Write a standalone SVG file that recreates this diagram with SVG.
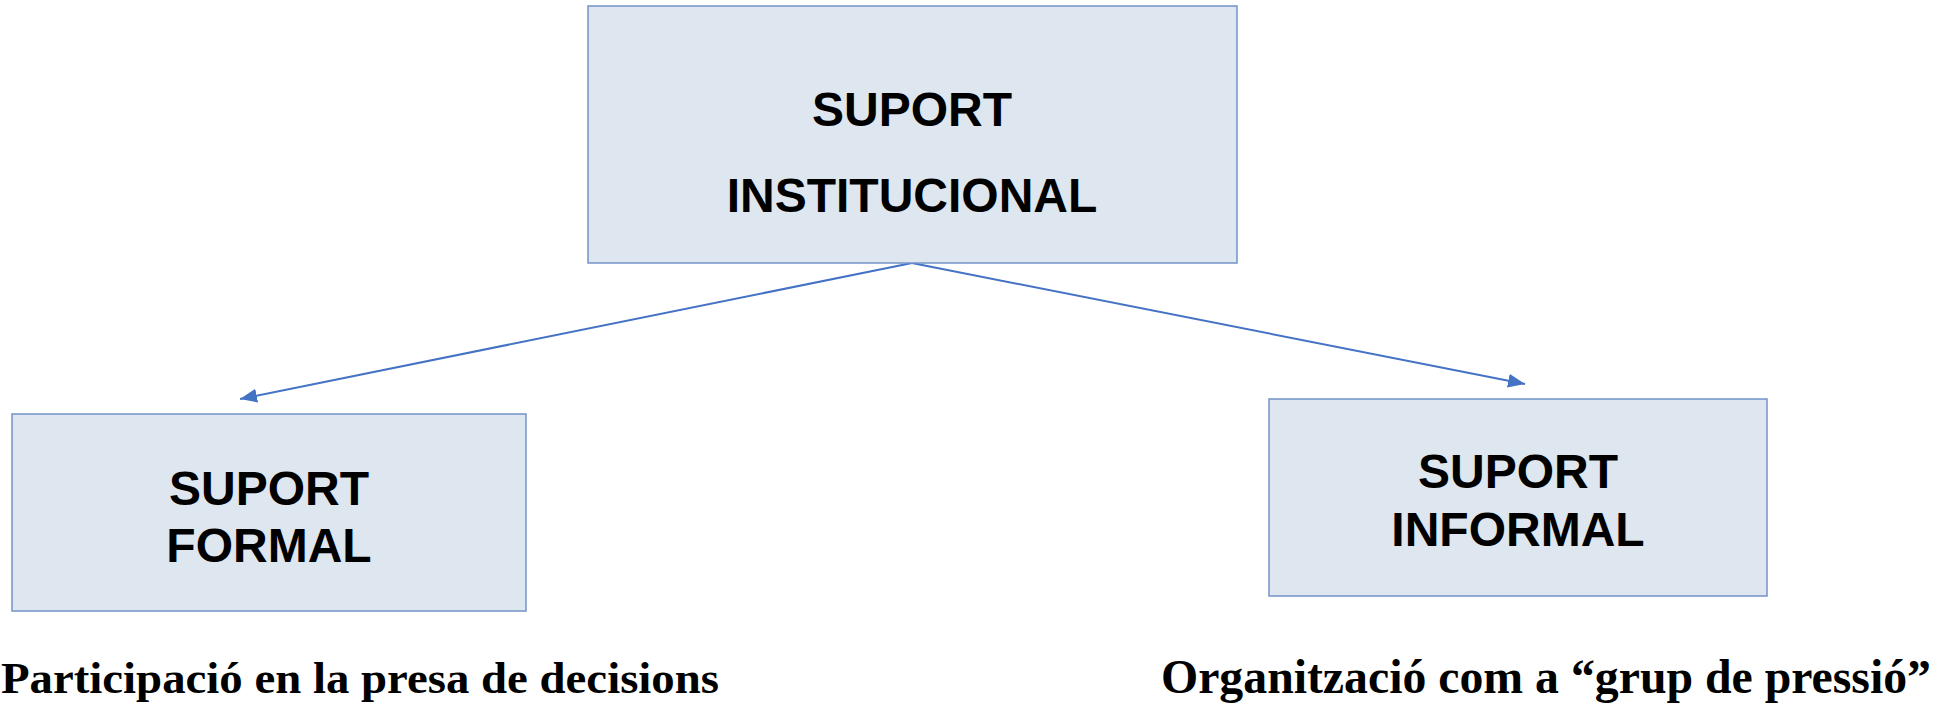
<svg xmlns="http://www.w3.org/2000/svg" width="1937" height="706" viewBox="0 0 1937 706">
<style>
.box{fill:#DEE6F0;stroke:#7393C9;stroke-width:1.5}
.lbl{font-family:"Liberation Sans",Arial,sans-serif;font-weight:bold;font-size:48px;fill:#000;text-anchor:middle}
.cap{font-family:"Liberation Serif","Times New Roman",serif;font-weight:bold;fill:#000}
.conn{stroke:#4472C4;stroke-width:2;fill:none}
</style>
<defs>
<marker id="arr" markerUnits="userSpaceOnUse" markerWidth="18" markerHeight="14" refX="17" refY="7" orient="auto">
<path d="M0,0 L17,7 L0,14 z" fill="#4472C4"/>
</marker>
</defs>
<rect width="1937" height="706" fill="#fff"/>
<g id="connectors">
<line class="conn" x1="912" y1="263" x2="240" y2="399" marker-end="url(#arr)"/>
<line class="conn" x1="912" y1="263" x2="1525" y2="384" marker-end="url(#arr)"/>
</g>
<g id="node-institucional">
<rect class="box" x="588" y="6" width="649" height="257"/>
<text class="lbl" x="912" y="126">SUPORT</text>
<text class="lbl" x="912" y="212">INSTITUCIONAL</text>
</g>
<g id="node-formal">
<rect class="box" x="12" y="414" width="514" height="197"/>
<text class="lbl" x="269" y="505">SUPORT</text>
<text class="lbl" x="269" y="562">FORMAL</text>
</g>
<g id="node-informal">
<rect class="box" x="1269" y="399" width="498" height="197"/>
<text class="lbl" x="1518" y="488">SUPORT</text>
<text class="lbl" x="1518" y="546">INFORMAL</text>
</g>
<g id="caption-formal">
<text class="cap" x="1" y="693" font-size="44" textLength="718" lengthAdjust="spacingAndGlyphs">Participació en la presa de decisions</text>
</g>
<g id="caption-informal">
<text class="cap" x="1161" y="693" font-size="48" textLength="770" lengthAdjust="spacingAndGlyphs">Organització com a “grup de pressió”</text>
</g>
</svg>
